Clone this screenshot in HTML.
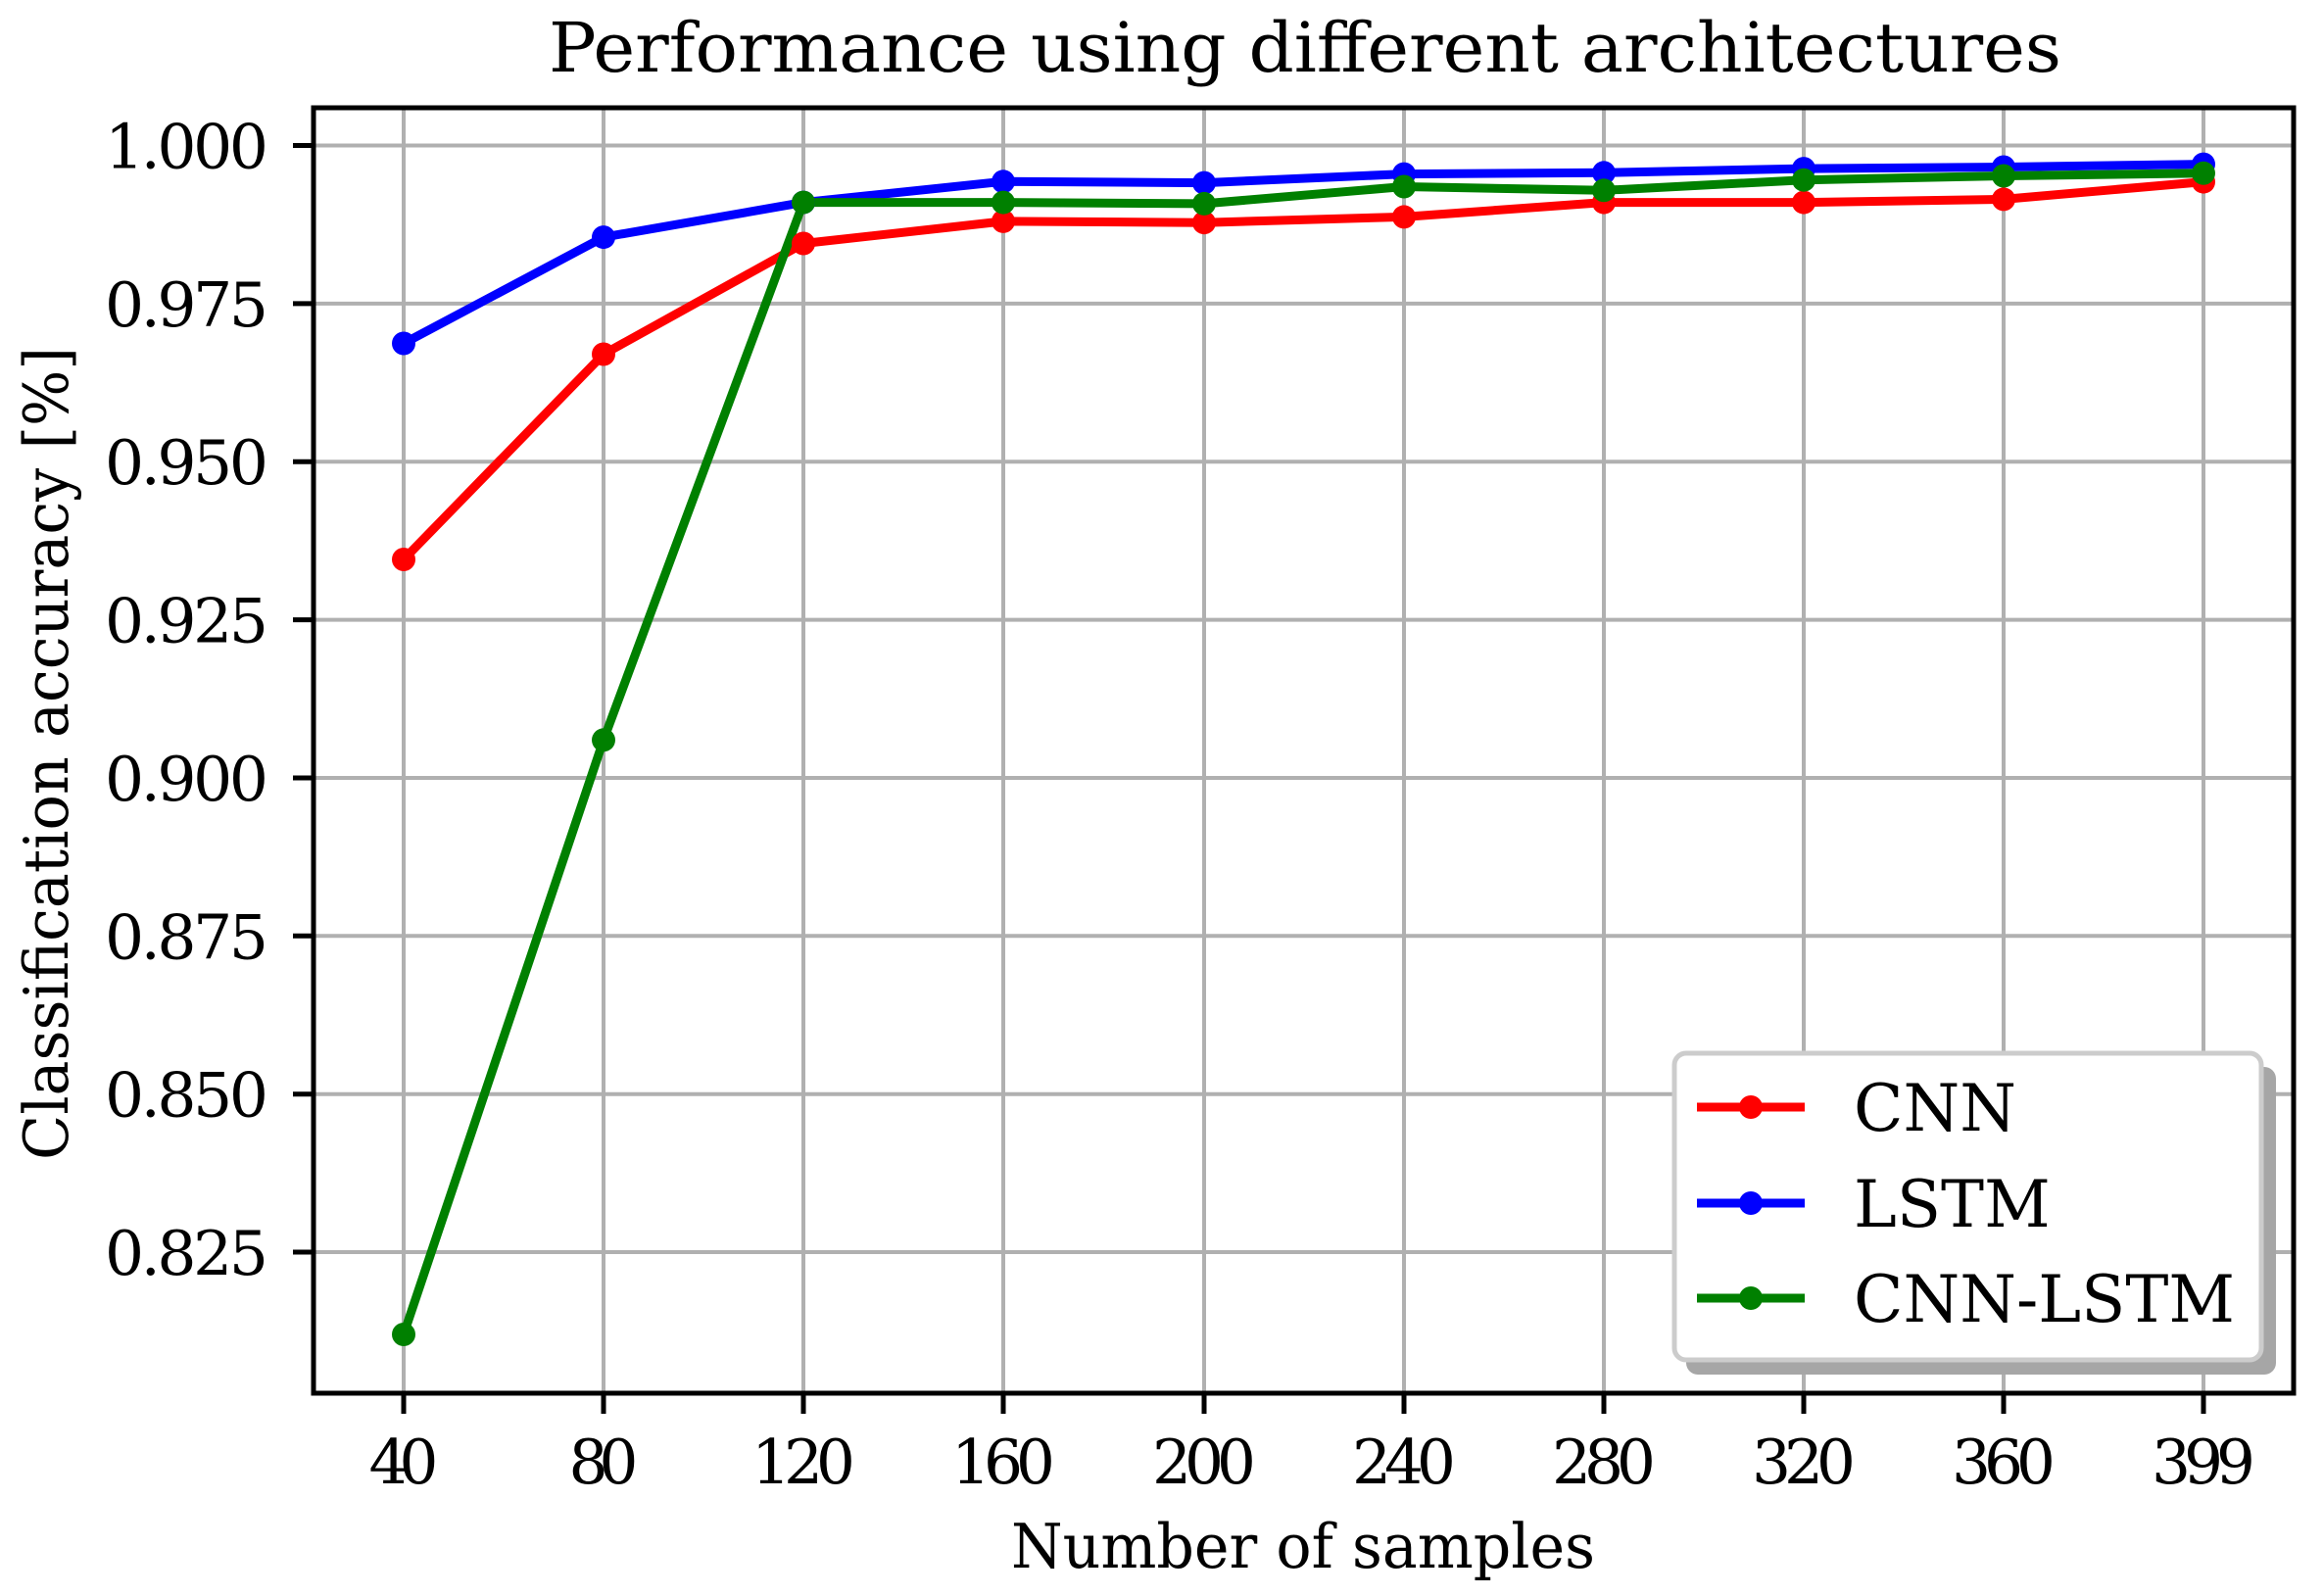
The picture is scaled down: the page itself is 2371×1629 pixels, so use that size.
<!DOCTYPE html>
<html><head><meta charset="utf-8"><style>html,body{margin:0;padding:0;background:#fff}svg{display:block}</style></head>
<body>
<svg width="2371" height="1629" viewBox="0 0 2371 1629" xmlns="http://www.w3.org/2000/svg" font-family="'DejaVu Serif','Liberation Serif',serif">
<rect width="2371" height="1629" fill="#fff"/>
<text x="560" y="73" font-size="70" textLength="1544" lengthAdjust="spacingAndGlyphs">Performance using different architectures</text>
<g stroke="#b0b0b0" stroke-width="4">
<line x1="412" y1="110" x2="412" y2="1422"/><line x1="616" y1="110" x2="616" y2="1422"/><line x1="820" y1="110" x2="820" y2="1422"/><line x1="1024" y1="110" x2="1024" y2="1422"/><line x1="1229" y1="110" x2="1229" y2="1422"/><line x1="1433" y1="110" x2="1433" y2="1422"/><line x1="1637" y1="110" x2="1637" y2="1422"/><line x1="1841" y1="110" x2="1841" y2="1422"/><line x1="2045" y1="110" x2="2045" y2="1422"/><line x1="2249" y1="110" x2="2249" y2="1422"/>
<line x1="320" y1="148.5" x2="2341" y2="148.5"/><line x1="320" y1="309.9" x2="2341" y2="309.9"/><line x1="320" y1="471.2" x2="2341" y2="471.2"/><line x1="320" y1="632.6" x2="2341" y2="632.6"/><line x1="320" y1="794" x2="2341" y2="794"/><line x1="320" y1="955.3" x2="2341" y2="955.3"/><line x1="320" y1="1116.7" x2="2341" y2="1116.7"/><line x1="320" y1="1278" x2="2341" y2="1278"/>
</g>
<g fill="none" stroke-width="9" stroke-linejoin="round">
<polyline stroke="#ff0000" points="412,571 616,361.5 820,248.5 1024,225.9 1229,227.2 1433,221.4 1637,206.6 1841,206.6 2045,203.4 2249,185.6"/>
<polyline stroke="#0000ff" points="412,350.5 616,242.1 820,206.6 1024,185.3 1229,186.6 1433,177.6 1637,176.3 1841,172.1 2045,170.5 2249,167.6"/>
<polyline stroke="#008000" points="412,1362 616,755.3 820,206.6 1024,206.6 1229,207.9 1433,190.5 1637,194.3 1841,183.7 2045,179.5 2249,176.8"/>
</g>
<g fill="#ff0000"><circle cx="412" cy="571" r="12"/><circle cx="616" cy="361.5" r="12"/><circle cx="820" cy="248.5" r="12"/><circle cx="1024" cy="225.9" r="12"/><circle cx="1229" cy="227.2" r="12"/><circle cx="1433" cy="221.4" r="12"/><circle cx="1637" cy="206.6" r="12"/><circle cx="1841" cy="206.6" r="12"/><circle cx="2045" cy="203.4" r="12"/><circle cx="2249" cy="185.6" r="12"/></g>
<g fill="#0000ff"><circle cx="412" cy="350.5" r="12"/><circle cx="616" cy="242.1" r="12"/><circle cx="820" cy="206.6" r="12"/><circle cx="1024" cy="185.3" r="12"/><circle cx="1229" cy="186.6" r="12"/><circle cx="1433" cy="177.6" r="12"/><circle cx="1637" cy="176.3" r="12"/><circle cx="1841" cy="172.1" r="12"/><circle cx="2045" cy="170.5" r="12"/><circle cx="2249" cy="167.6" r="12"/></g>
<g fill="#008000"><circle cx="412" cy="1362" r="12"/><circle cx="616" cy="755.3" r="12"/><circle cx="820" cy="206.6" r="12"/><circle cx="1024" cy="206.6" r="12"/><circle cx="1229" cy="207.9" r="12"/><circle cx="1433" cy="190.5" r="12"/><circle cx="1637" cy="194.3" r="12"/><circle cx="1841" cy="183.7" r="12"/><circle cx="2045" cy="179.5" r="12"/><circle cx="2249" cy="176.8" r="12"/></g>
<rect x="1721" y="1089" width="602" height="314" rx="12" fill="#a6a6a6"/>
<rect x="1709" y="1075" width="599" height="313" rx="12" fill="#fff" stroke="#cccccc" stroke-width="5"/>
<g stroke-width="9"><line x1="1732" y1="1130" x2="1842" y2="1130" stroke="#ff0000"/><line x1="1732" y1="1228" x2="1842" y2="1228" stroke="#0000ff"/><line x1="1732" y1="1325" x2="1842" y2="1325" stroke="#008000"/></g>
<circle cx="1787" cy="1130" r="12" fill="#ff0000"/><circle cx="1787" cy="1228" r="12" fill="#0000ff"/><circle cx="1787" cy="1325" r="12" fill="#008000"/>
<g font-size="66"><text x="1892" y="1154">CNN</text><text x="1892" y="1252">LSTM</text><text x="1892" y="1349">CNN-LSTM</text></g>
<rect x="320" y="110" width="2021" height="1312" fill="none" stroke="#000" stroke-width="5"/>
<g stroke="#000" stroke-width="5">
<line x1="412" y1="1422" x2="412" y2="1443"/><line x1="616" y1="1422" x2="616" y2="1443"/><line x1="820" y1="1422" x2="820" y2="1443"/><line x1="1024" y1="1422" x2="1024" y2="1443"/><line x1="1229" y1="1422" x2="1229" y2="1443"/><line x1="1433" y1="1422" x2="1433" y2="1443"/><line x1="1637" y1="1422" x2="1637" y2="1443"/><line x1="1841" y1="1422" x2="1841" y2="1443"/><line x1="2045" y1="1422" x2="2045" y2="1443"/><line x1="2249" y1="1422" x2="2249" y2="1443"/>
<line x1="299" y1="148.5" x2="320" y2="148.5"/><line x1="299" y1="309.9" x2="320" y2="309.9"/><line x1="299" y1="471.2" x2="320" y2="471.2"/><line x1="299" y1="632.6" x2="320" y2="632.6"/><line x1="299" y1="794" x2="320" y2="794"/><line x1="299" y1="955.3" x2="320" y2="955.3"/><line x1="299" y1="1116.7" x2="320" y2="1116.7"/><line x1="299" y1="1278" x2="320" y2="1278"/>
</g>
<g font-size="63" text-anchor="middle" lengthAdjust="spacingAndGlyphs">
<text x="412" y="1514" textLength="71">40</text><text x="616" y="1514" textLength="71">80</text><text x="820" y="1514" textLength="106">120</text><text x="1024" y="1514" textLength="106">160</text><text x="1229" y="1514" textLength="106">200</text><text x="1433" y="1514" textLength="106">240</text><text x="1637" y="1514" textLength="106">280</text><text x="1841" y="1514" textLength="106">320</text><text x="2045" y="1514" textLength="106">360</text><text x="2249" y="1514" textLength="106">399</text>
</g>
<g font-size="63" text-anchor="end" lengthAdjust="spacingAndGlyphs">
<text x="274" y="171.5" textLength="167">1.000</text><text x="274" y="332.9" textLength="167">0.975</text><text x="274" y="494.2" textLength="167">0.950</text><text x="274" y="655.6" textLength="167">0.925</text><text x="274" y="817" textLength="167">0.900</text><text x="274" y="978.3" textLength="167">0.875</text><text x="274" y="1139.7" textLength="167">0.850</text><text x="274" y="1301" textLength="167">0.825</text>
</g>
<text x="1330" y="1600" font-size="63" text-anchor="middle" textLength="596" lengthAdjust="spacingAndGlyphs">Number of samples</text>
<text transform="translate(69,769) rotate(-90)" font-size="63" text-anchor="middle" textLength="830" lengthAdjust="spacingAndGlyphs">Classification accuracy [%]</text>
</svg>
</body></html>
